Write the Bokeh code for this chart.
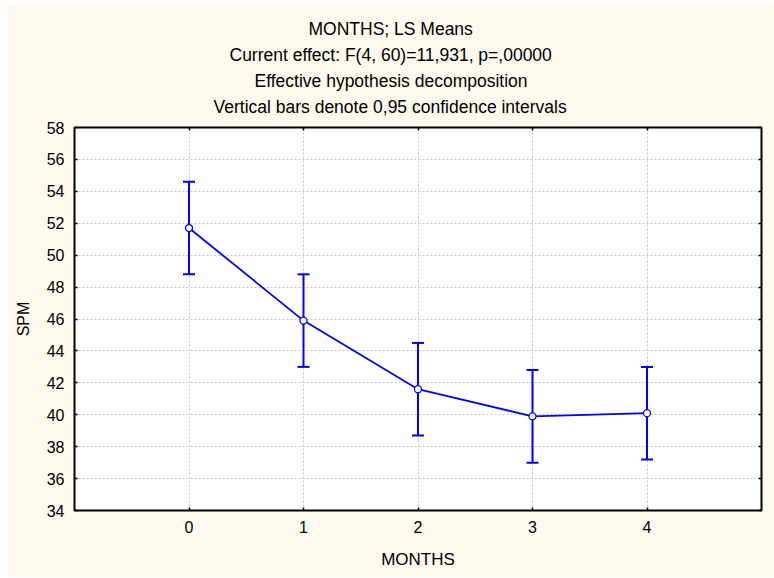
from bokeh.plotting import figure
from bokeh.models import (ColumnDataSource, Whisker, TeeHead, Title, LinearAxis,
                          FixedTicker, Range1d)
from bokeh.embed import file_html
from bokeh.resources import INLINE

# ---- data ----
months = [0, 1, 2, 3, 4]
spm_means = [51.7, 45.9, 41.6, 39.9, 40.1]
ci_lower = [48.8, 43.0, 38.7, 37.0, 37.2]
ci_upper = [54.6, 48.8, 44.5, 42.8, 43.0]
x_ticks = [0, 1, 2, 3, 4]
y_ticks = [34, 36, 38, 40, 42, 44, 46, 48, 50, 52, 54, 56, 58]
title_lines = [
    "MONTHS; LS Means",
    "Current effect: F(4, 60)=11,931, p=,00000",
    "Effective hypothesis decomposition",
    "Vertical bars denote 0,95 confidence intervals",
]
# left offsets (px from frame's left edge) that centre each title line on the page
title_offsets = [234, 155, 180, 139]

FONT = "Liberation Sans"
CREAM = "#FEF9EE"
BLUE = "#0000FF"

src = ColumnDataSource(dict(x=months, y=spm_means, lower=ci_lower, upper=ci_upper))

p = figure(width=767, height=573, output_backend="svg", toolbar_location=None,
           x_range=Range1d(-1, 5), y_range=Range1d(34, 58),
           min_border_left=67, min_border_right=13, min_border_top=123,
           min_border_bottom=67, margin=(4, 0, 1, 7))
p.background_fill_color = "white"
p.border_fill_color = CREAM
p.outline_line_color = "black"
p.outline_line_width = 2

# axes
for ax in (p.xaxis[0], p.yaxis[0]):
    ax.axis_line_color = None
    ax.major_tick_in = 3
    ax.major_tick_out = 0
    ax.major_tick_line_color = "black"
    ax.major_tick_line_width = 1.5
    ax.minor_tick_line_color = None
    ax.major_label_text_font = FONT
    ax.major_label_text_font_size = "16px"
    ax.major_label_text_color = "black"
    ax.axis_label_text_font = FONT
    ax.axis_label_text_font_style = "normal"
    ax.axis_label_text_color = "black"

p.xaxis[0].ticker = FixedTicker(ticks=x_ticks)
p.yaxis[0].ticker = FixedTicker(ticks=y_ticks)
p.xaxis[0].axis_label = "MONTHS"
p.yaxis[0].axis_label = "SPM"
p.xaxis[0].axis_label_text_font_size = "17px"
p.yaxis[0].axis_label_text_font_size = "16px"
p.xaxis[0].major_label_standoff = 10
p.xaxis[0].axis_label_standoff = 14
p.yaxis[0].major_label_standoff = 10
p.yaxis[0].axis_label_standoff = 12

# inner tick marks on the right and top edges of the frame
for loc, tk in (("right", y_ticks), ("above", x_ticks)):
    ax = LinearAxis(ticker=FixedTicker(ticks=tk), axis_line_color=None,
                    major_tick_in=3, major_tick_out=0, major_tick_line_width=1.5,
                    minor_tick_line_color=None, major_label_text_font_size="0px",
                    major_label_text_color=None, major_label_standoff=0)
    p.add_layout(ax, loc)

# invisible spacer axis: leaves a gap between the frame and the title lines
spacer = LinearAxis(ticker=FixedTicker(ticks=x_ticks), axis_line_color=None,
                    major_tick_in=0, major_tick_out=9, major_tick_line_color=None,
                    minor_tick_line_color=None, major_label_text_font_size="0px",
                    major_label_text_color=None, major_label_standoff=0)
p.add_layout(spacer, "above")

# title lines (added closest-to-frame first)
for txt, off in reversed(list(zip(title_lines, title_offsets))):
    p.add_layout(Title(text=txt, align="left", offset=off, standoff=4,
                       text_font=FONT, text_font_size="17.5px",
                       text_font_style="normal", text_color="black"), "above")

p.xgrid.ticker = FixedTicker(ticks=x_ticks)
p.ygrid.ticker = FixedTicker(ticks=y_ticks)
for g in (p.xgrid, p.ygrid):
    g.grid_line_color = "#C4C4C4"
    g.grid_line_dash = "2 2"
    g.grid_line_width = 1

# error bars
wh = Whisker(source=src, base="x", lower="lower", upper="upper",
             line_color=BLUE, line_width=2,
             upper_head=TeeHead(size=12, line_color=BLUE, line_width=2),
             lower_head=TeeHead(size=12, line_color=BLUE, line_width=2))
p.add_layout(wh)

p.line("x", "y", source=src, line_color=BLUE, line_width=1.8)
p.scatter("x", "y", source=src, size=7, fill_color="white", line_color=BLUE,
          line_width=1.3)

open("out.html", "w").write(file_html(p, INLINE))
